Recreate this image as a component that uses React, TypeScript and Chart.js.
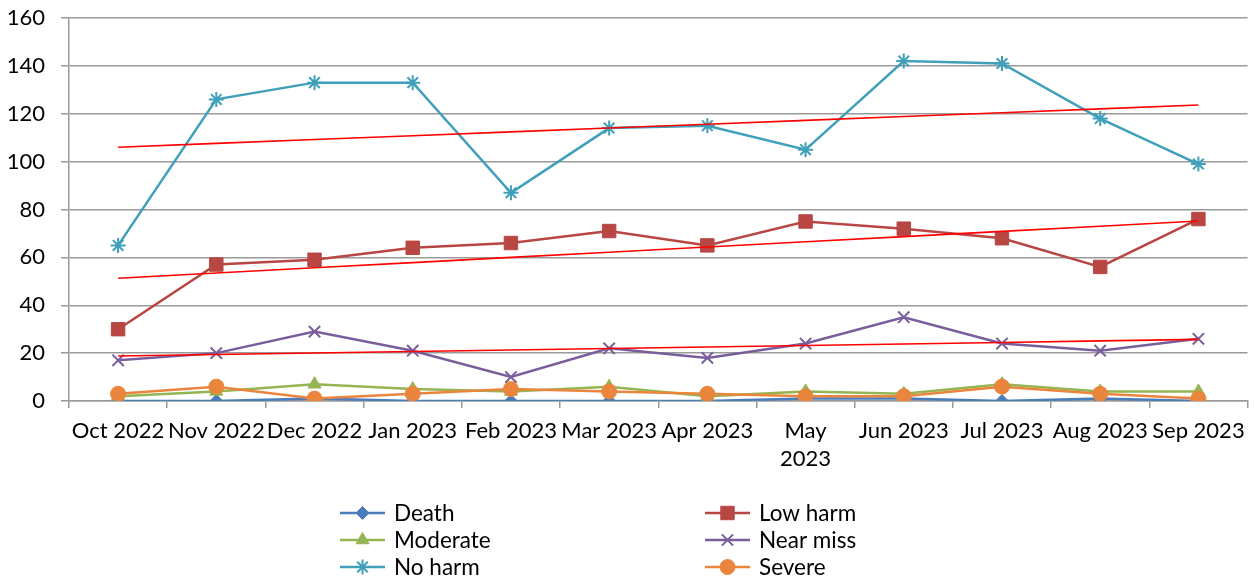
import React, { useEffect, useRef } from 'react';
import { Chart, registerables } from 'chart.js';
import { drawPoint } from 'chart.js/helpers';

Chart.register(...registerables);

const categories: (string | string[])[] = [
  'Oct 2022', 'Nov 2022', 'Dec 2022', 'Jan 2023', 'Feb 2023', 'Mar 2023',
  'Apr 2023', ['May', '2023'], 'Jun 2023', 'Jul 2023', 'Aug 2023', 'Sep 2023',
];

const death = [0, 0, 1, 0, 0, 0, 0, 1, 1, 0, 1, 0];
const lowHarm = [30, 57, 59, 64, 66, 71, 65, 75, 72, 68, 56, 76];
const moderate = [2, 4, 7, 5, 4, 6, 2, 4, 3, 7, 4, 4];
const nearMiss = [17, 20, 29, 21, 10, 22, 18, 24, 35, 24, 21, 26];
const noHarm = [65, 126, 133, 133, 87, 114, 115, 105, 142, 141, 118, 99];
const severe = [3, 6, 1, 3, 5, 4, 3, 2, 2, 6, 3, 1];

const yTicks = [0, 20, 40, 60, 80, 100, 120, 140, 160];

const FONT = 'Lato, "Open Sans", sans-serif';
const GRID = '#9a9a9a';

function linearTrend(values: number[]): number[] {
  const n = values.length;
  const mx = (n - 1) / 2;
  const my = values.reduce((a, b) => a + b, 0) / n;
  let sxy = 0;
  let sxx = 0;
  values.forEach((v, i) => {
    sxy += (i - mx) * (v - my);
    sxx += (i - mx) * (i - mx);
  });
  const slope = sxy / sxx;
  return values.map((_, i) => my + slope * (i - mx));
}

const seriesDefs = [
  { label: 'Death', data: death, color: '#4A7EBB', style: 'rectRot', radius: 6.5, order: 6 },
  { label: 'Low harm', data: lowHarm, color: '#B84744', style: 'rect', radius: 9.5, order: 5 },
  { label: 'Moderate', data: moderate, color: '#94B552', style: 'triangle', radius: 7.5, order: 4 },
  { label: 'Near miss', data: nearMiss, color: '#7A5E9C', style: 'crossRot', radius: 8, order: 3 },
  { label: 'No harm', data: noHarm, color: '#40A0BA', style: 'star', radius: 7.5, order: 2 },
  { label: 'Severe', data: severe, color: '#EA853E', style: 'circle', radius: 7.5, order: 1 },
];

const legendPlugin = {
  id: 'customLegend',
  afterDraw(chart: any) {
    const ctx = chart.ctx as CanvasRenderingContext2D;
    const cols = [340, 705];
    const rows = [513, 540, 567];
    ctx.save();
    seriesDefs.forEach((s, i) => {
      const x = cols[i % 2];
      const y = rows[Math.floor(i / 2)];
      ctx.strokeStyle = s.color;
      ctx.lineWidth = 2.5;
      ctx.beginPath();
      ctx.moveTo(x, y);
      ctx.lineTo(x + 45, y);
      ctx.stroke();
      ctx.fillStyle = s.color;
      ctx.strokeStyle = s.color;
      ctx.lineWidth = s.style === 'crossRot' || s.style === 'star' ? 2 : 1;
      drawPoint(ctx, { pointStyle: s.style as any, radius: s.radius, rotation: 0, borderWidth: ctx.lineWidth }, x + 22.5, y);
      ctx.fillStyle = '#000000';
      ctx.font = `22.5px ${FONT}`;
      ctx.textBaseline = 'middle';
      ctx.textAlign = 'left';
      ctx.fillText(s.label, x + 54, y + 1);
    });
    ctx.restore();
  },
};

export default function App() {
  const ref = useRef<HTMLCanvasElement | null>(null);

  useEffect(() => {
    if (!ref.current) return;
    const datasets: any[] = seriesDefs.map((s) => ({
      label: s.label,
      data: s.data,
      borderColor: s.color,
      backgroundColor: s.color,
      pointBackgroundColor: s.color,
      pointBorderColor: s.color,
      pointStyle: s.style,
      pointRadius: s.radius,
      pointBorderWidth: s.style === 'crossRot' || s.style === 'star' ? 2 : 1,
      borderWidth: 2.5,
      tension: 0,
      order: s.order,
    }));
    [noHarm, lowHarm, nearMiss].forEach((vals, i) => {
      datasets.push({
        label: `trend${i}`,
        data: linearTrend(vals),
        borderColor: '#FF0000',
        backgroundColor: '#FF0000',
        borderWidth: 1.6,
        pointRadius: 0,
        tension: 0,
        order: 0,
      });
    });

    const chart = new Chart(ref.current, {
      type: 'line',
      data: { labels: categories as any, datasets },
      options: {
        responsive: false,
        animation: false,
        devicePixelRatio: 1,
        layout: { padding: { top: 18, right: 6, bottom: 0, left: 0 } },
        plugins: { legend: { display: false }, tooltip: { enabled: false } },
        scales: {
          x: {
            type: 'category',
            offset: true,
            grid: {
              display: true,
              drawOnChartArea: false,
              drawTicks: true,
              tickLength: 7,
              color: GRID,
              lineWidth: 1.5,
              offset: true,
            },
            border: { display: true, color: GRID, width: 1.5 },
            ticks: {
              color: '#000000',
              font: { family: FONT, size: 22, lineHeight: 1.28 },
              padding: 9,
              maxRotation: 0,
              minRotation: 0,
              autoSkip: false,
            },
            afterFit(scale: any) {
              scale.height = 182;
              scale.paddingLeft = 0;
              scale.paddingRight = 0;
            },
          },
          y: {
            min: 0,
            max: 160,
            afterBuildTicks(scale: any) {
              scale.ticks = yTicks.map((v) => ({ value: v }));
            },
            grid: {
              color: GRID,
              lineWidth: 1.5,
              drawTicks: true,
              tickLength: 8,
            },
            border: { display: true, color: GRID, width: 1.5 },
            ticks: {
              color: '#000000',
              font: { family: FONT, size: 22 },
              padding: 16,
            },
            afterFit(scale: any) {
              scale.width = 69;
              scale.paddingTop = 0;
              scale.paddingBottom = 0;
            },
          },
        },
      },
      plugins: [legendPlugin],
    });
    return () => chart.destroy();
  }, []);

  return (
    <div style={{ position: 'absolute', left: 0, top: 0, width: 1258, height: 583, background: '#ffffff' }}>
      <canvas ref={ref} width={1258} height={583} style={{ display: 'block' }} />
    </div>
  );
}
